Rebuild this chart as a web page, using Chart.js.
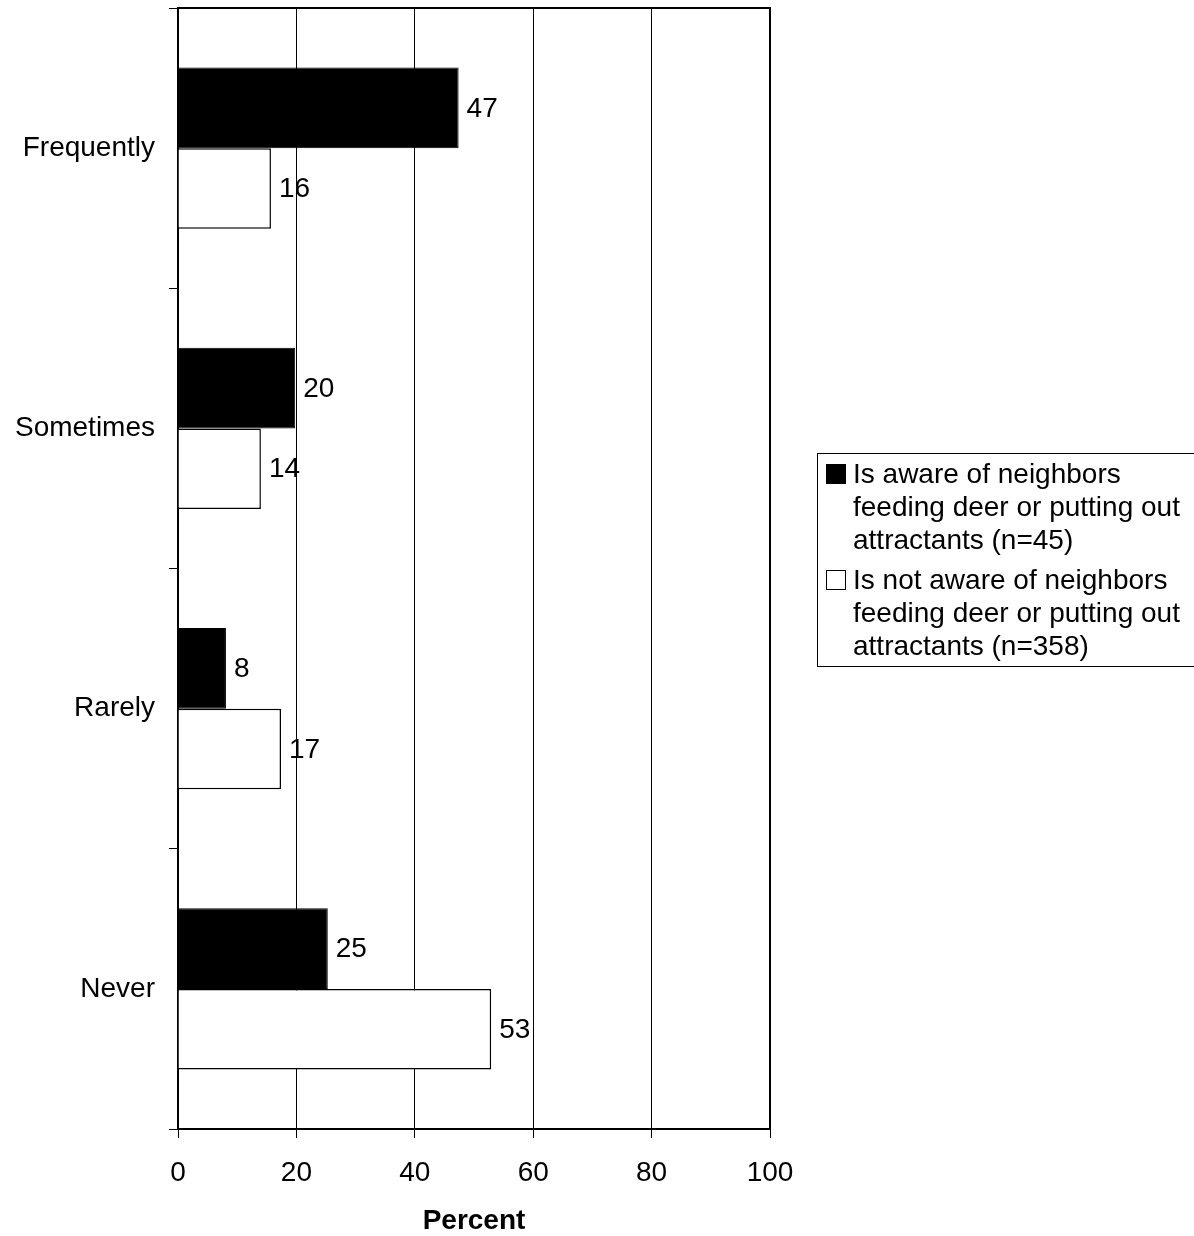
<!DOCTYPE html>
<html>
<head>
<meta charset="utf-8">
<title>Neighbors feeding deer</title>
<script src="https://cdn.jsdelivr.net/npm/chart.js@4/dist/chart.umd.min.js"></script>
<style>
    body { margin: 0; background: #fff; overflow: hidden; }
    #wrap { position: relative; width: 1194px; height: 1236px; }
    #legend {
        position: absolute; left: 817px; top: 453px; width: 420px;
        border: 1px solid #000; box-sizing: border-box; padding: 3px 0 4px 0;
        font: 28px "Liberation Sans", Arial, sans-serif; line-height: 33px; color: #000;
    }
    .item { display: flex; align-items: flex-start; }
    .item + .item { margin-top: 7px; }
    .swatch { width: 20px; height: 20px; box-sizing: border-box; border: 1px solid #000; margin: 7px 7px 0 8px; flex: none; }
</style>
</head>
<body>
<div id="wrap">
    <canvas id="chart" width="1194" height="1236"></canvas>
    <div id="legend"></div>
</div>
<script>
const categories = ['Frequently', 'Sometimes', 'Rarely', 'Never'];
const awareValues = [47.4, 19.8, 8.1, 25.3];
const notAwareValues = [15.7, 14.0, 17.4, 52.9];
const seriesNames = [
    ['Is aware of neighbors', 'feeding deer or putting out', 'attractants (n=45)'],
    ['Is not aware of neighbors', 'feeding deer or putting out', 'attractants (n=358)']
];
const seriesColors = ['#000000', '#ffffff'];

const FONT = '"Liberation Sans", Arial, sans-serif';

// value labels next to each bar
const barLabels = {
    id: 'barLabels',
    afterDatasetsDraw(chart) {
        const ctx = chart.ctx;
        ctx.save();
        ctx.font = '28px ' + FONT;
        ctx.fillStyle = '#000';
        ctx.textAlign = 'left';
        ctx.textBaseline = 'middle';
        chart.data.datasets.forEach((ds, i) => {
            chart.getDatasetMeta(i).data.forEach((bar, j) => {
                ctx.fillText(String(Math.round(ds.data[j])), bar.x + 8, bar.y + 1);
            });
        });
        ctx.restore();
    }
};

// top and right edges of the plot frame
const frame = {
    id: 'frame',
    afterDraw(chart) {
        const a = chart.chartArea;
        const ctx = chart.ctx;
        ctx.save();
        ctx.strokeStyle = '#000';
        ctx.lineWidth = 2;
        ctx.beginPath();
        ctx.moveTo(a.left, a.top);
        ctx.lineTo(a.right, a.top);
        ctx.lineTo(a.right, a.bottom);
        ctx.stroke();
        ctx.restore();
    }
};

new Chart(document.getElementById('chart'), {
    type: 'bar',
    data: {
        labels: categories,
        datasets: [
            { label: seriesNames[0].join(' '), data: awareValues, backgroundColor: seriesColors[0], borderColor: '#000', borderWidth: 1 },
            { label: seriesNames[1].join(' '), data: notAwareValues, backgroundColor: seriesColors[1], borderColor: '#000', borderWidth: 1.5 }
        ]
    },
    options: {
        indexAxis: 'y',
        responsive: false,
        animation: false,
        devicePixelRatio: 1,
        categoryPercentage: 0.575,
        barPercentage: 1,
        layout: { padding: { left: 0, right: 424, top: 8, bottom: 0 } },
        plugins: { legend: { display: false }, tooltip: { enabled: false } },
        scales: {
            x: {
                min: 0, max: 100,
                afterFit(scale) { scale.height = 107; },
                ticks: { stepSize: 20, color: '#000', font: { family: FONT, size: 28 }, padding: 18, maxRotation: 0 },
                grid: { color: '#000', lineWidth: 1, tickLength: 9, tickColor: '#000' },
                border: { color: '#000', width: 2 },
                title: { display: true, text: 'Percent', color: '#000', font: { family: FONT, size: 28, weight: 'bold' }, padding: { top: 0, bottom: -2 } }
            },
            y: {
                afterFit(scale) {
                    scale.width = 178;
                    scale.paddingTop = 0;
                    scale.paddingBottom = 0;
                },
                ticks: { color: '#000', font: { family: FONT, size: 28 }, padding: 14 },
                grid: { offset: true, drawOnChartArea: false, tickLength: 9, tickColor: '#000' },
                border: { color: '#000', width: 2 }
            }
        }
    },
    plugins: [barLabels, frame]
});

// html legend
document.getElementById('legend').innerHTML = seriesNames.map((lines, i) => `
    <div class="item">
        <div class="swatch" style="background:${seriesColors[i]}"></div>
        <div>${lines.join('<br>')}</div>
    </div>
`).join('');
</script>
</body>
</html>
